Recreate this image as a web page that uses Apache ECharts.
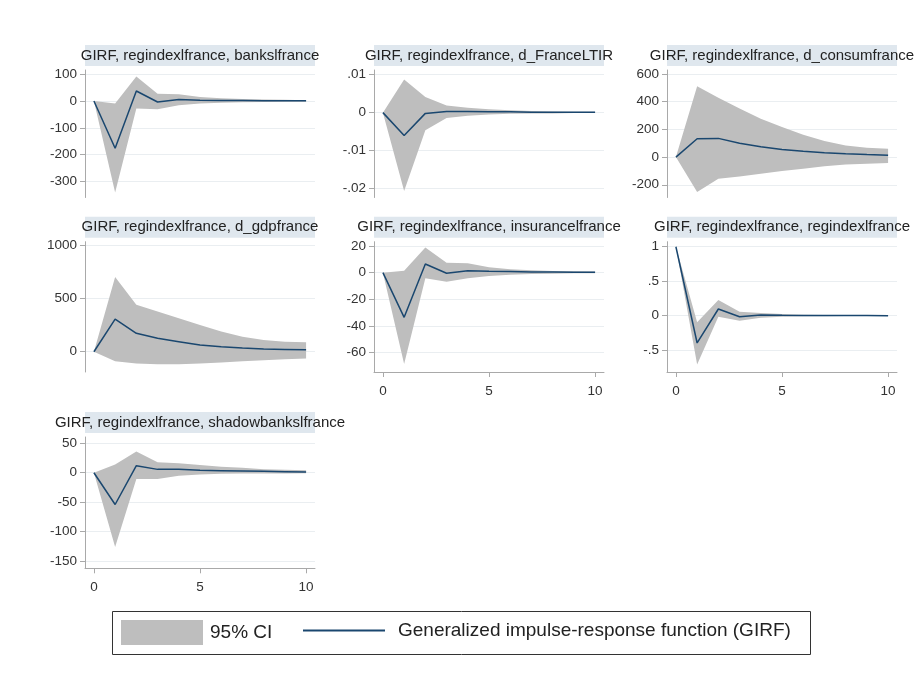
<!DOCTYPE html>
<html><head><meta charset="utf-8">
<script src="https://cdn.jsdelivr.net/npm/echarts@6/dist/echarts.min.js"></script>
<style>html,body{margin:0;padding:0;background:#fff}#c{width:916px;height:678px}</style>
</head><body><div id="c"></div>
<script>
// ---------- data ----------
const horizon = [0,1,2,3,4,5,6,7,8,9,10];
const xTicks = [0,5,10];

const titleBanks = 'GIRF, regindexlfrance, bankslfrance';
const titleLTIR = 'GIRF, regindexlfrance, d_FranceLTIR';
const titleConsum = 'GIRF, regindexlfrance, d_consumfrance';
const titleGdp = 'GIRF, regindexlfrance, d_gdpfrance';
const titleIns = 'GIRF, regindexlfrance, insurancelfrance';
const titleReg = 'GIRF, regindexlfrance, regindexlfrance';
const titleShadow = 'GIRF, regindexlfrance, shadowbankslfrance';

const banksGirf  = [0,-176,37,-4,5,3,2,1.5,1,0.5,0.3];
const banksUpper = [0,-10,91,27,25,15,10,7,5,4,3];
const banksLower = [0,-340,-28,-31,-16,-10,-7,-5,-4,-3,-3];
const banksTicks = [-300,-200,-100,0,100];

const ltirGirf  = [0,-0.0060,-0.0002,0.0003,0.0003,0.0002,0.0002,0.0001,0.0001,0.0001,0.0001];
const ltirUpper = [0,0.0087,0.0041,0.0019,0.0013,0.0009,0.0006,0.0004,0.0003,0.0002,0.0002];
const ltirLower = [0,-0.0206,-0.0046,-0.0014,-0.0008,-0.0005,-0.0003,-0.0002,-0.0002,-0.0001,-0.0001];
const ltirTicks = [-0.02,-0.01,0,0.01];

const consumGirf  = [0,132,135,100,75,55,42,32,24,18,14];
const consumUpper = [0,511,429,350,277,217,161,116,84,67,60];
const consumLower = [0,-253,-157,-140,-120,-101,-84,-67,-53,-48,-43];
const consumTicks = [-200,0,200,400,600];

const gdpGirf  = [0,307,174,127,95,63,47,35,25,22,19];
const gdpUpper = [0,706,443,380,316,253,190,142,111,95,89];
const gdpLower = [0,-89,-111,-117,-117,-111,-101,-89,-79,-70,-63];
const gdpTicks = [0,500,1000];

const insGirf  = [0,-33.5,6.5,-0.5,1.5,1,0.8,0.5,0.4,0.3,0.2];
const insUpper = [0,1.5,18.8,7.5,7,4,2.5,1.8,1.2,1,0.8];
const insLower = [0,-68.5,-4.2,-6.8,-4.2,-2.5,-1.5,-1,-0.8,-0.5,-0.5];
const insTicks = [-60,-40,-20,0,20];

const regGirf  = [1,-0.396,0.097,-0.015,0.01,0.005,0.003,0.002,0.001,0.001,0];
const regUpper = [1,-0.097,0.227,0.058,0.039,0.024,0.015,0.01,0.007,0.005,0.004];
const regLower = [1,-0.71,-0.015,-0.072,-0.03,-0.015,-0.01,-0.007,-0.005,-0.004,-0.003];
const regTicks = [-0.5,0,0.5,1];

const shadowGirf  = [0,-54,12,5.7,6,4,3.4,2.8,2.3,1.7,1.1];
const shadowUpper = [0,14,36,17.6,16,13,10,8.5,6,5,4];
const shadowLower = [0,-126,-10.8,-10.8,-5,-3,-1.7,-1.5,-1.3,-1.2,-1.1];
const shadowTicks = [-150,-100,-50,0,50];

const ciName = '95% CI';
const lineName = 'Generalized impulse-response function (GIRF)';

// ---------- layout / styles ----------
const FONT = '"Liberation Sans", Arial, Helvetica, sans-serif';
const colLeft = [85, 374, 667];
const rowTop = [70, 241.7, 437];
const rowH = [127.5, 130.3, 131.3];
const plotW = 230;
const xMin = -0.42, xMax = 10.42;

const panels = [
  {title: titleBanks,  g: banksGirf,  u: banksUpper,  l: banksLower,  ticks: banksTicks,  min: -359,    max: 115,    col:0,row:0, xaxis:false},
  {title: titleLTIR,   g: ltirGirf,   u: ltirUpper,   l: ltirLower,   ticks: ltirTicks,   min: -0.0223, max: 0.0112, col:1,row:0, xaxis:false},
  {title: titleConsum, g: consumGirf, u: consumUpper, l: consumLower, ticks: consumTicks, min: -292,    max: 629,    col:2,row:0, xaxis:false},
  {title: titleGdp,    g: gdpGirf,    u: gdpUpper,    l: gdpLower,    ticks: gdpTicks,    min: -191,    max: 1038,   col:0,row:1, xaxis:false},
  {title: titleIns,    g: insGirf,    u: insUpper,    l: insLower,    ticks: insTicks,    min: -74.5,   max: 23.2,   col:1,row:1, xaxis:true},
  {title: titleReg,    g: regGirf,    u: regUpper,    l: regLower,    ticks: regTicks,    min: -0.817,  max: 1.073,  col:2,row:1, xaxis:true},
  {title: titleShadow, g: shadowGirf, u: shadowUpper, l: shadowLower, ticks: shadowTicks, min: -162.4,  max: 60.7,   col:0,row:2, xaxis:true}
];

function stataFmt(v) {
  let s = String(Math.round(v * 1e6) / 1e6);
  return s.replace(/^(-?)0\./, '$1.');
}

const AXIS_COLOR = '#a9a9a9';
const LABEL_COLOR = '#333333';
const GRID_COLOR = '#eaeef1';
const BAND_COLOR = '#dfe7ee';
const CI_COLOR = '#bebebe';
const LINE_COLOR = '#1a476f';

const grid = [], xAxis = [], yAxis = [], series = [], title = [], graphic = [];

panels.forEach((p, i) => {
  const left = colLeft[p.col], top = rowTop[p.row], h = rowH[p.row];
  grid.push({left: left, top: top, width: plotW, height: h, containLabel: false});
  graphic.push({type: 'rect', silent: true, z: 0,
    shape: {x: left, y: top - 25, width: plotW, height: 21},
    style: {fill: BAND_COLOR}});
  title.push({text: p.title, left: left + plotW / 2, top: top - 14.5, textAlign: 'center',
    textVerticalAlign: 'middle', padding: 0,
    textStyle: {fontFamily: FONT, fontSize: 15, fontWeight: 'normal', color: '#222'}});
  xAxis.push({type: 'value', gridIndex: i, min: xMin, max: xMax,
    axisLine: {show: p.xaxis, onZero: false, lineStyle: {color: AXIS_COLOR, width: 1}},
    axisTick: {show: p.xaxis, length: 5, customValues: xTicks, lineStyle: {color: AXIS_COLOR}},
    axisLabel: {show: p.xaxis, customValues: xTicks, margin: 12, color: LABEL_COLOR, fontFamily: FONT, fontSize: 13.5},
    splitLine: {show: false}});
  yAxis.push({type: 'value', gridIndex: i, min: p.min, max: p.max,
    axisLine: {show: true, onZero: false, lineStyle: {color: AXIS_COLOR, width: 1}},
    axisTick: {show: true, length: 5, customValues: p.ticks, lineStyle: {color: AXIS_COLOR}},
    axisLabel: {customValues: p.ticks, margin: 8, color: LABEL_COLOR, fontFamily: FONT, fontSize: 13.5,
      formatter: v => stataFmt(v)},
    splitLine: {show: true, customValues: p.ticks, lineStyle: {color: GRID_COLOR, width: 1}}});

  const ciData = horizon.map((h, k) => [h, p.l[k], p.u[k]]);
  series.push({type: 'custom', name: ciName, coordinateSystem: 'cartesian2d',
    xAxisIndex: i, yAxisIndex: i, data: ciData, encode: {x: 0, y: [1, 2]},
    silent: true, z: 2, color: CI_COLOR, clip: true,
    renderItem: (params, api) => {
      if (params.dataIndex !== 0) return null;
      const pts = [];
      for (let k = 0; k < ciData.length; k++) pts.push(api.coord([ciData[k][0], ciData[k][2]]));
      for (let k = ciData.length - 1; k >= 0; k--) pts.push(api.coord([ciData[k][0], ciData[k][1]]));
      return {type: 'polygon', shape: {points: pts}, style: {fill: CI_COLOR}};
    }});
  series.push({type: 'line', name: lineName, xAxisIndex: i, yAxisIndex: i,
    data: horizon.map((h, k) => [h, p.g[k]]),
    symbol: 'none', showSymbol: false, silent: true, color: LINE_COLOR,
    lineStyle: {color: LINE_COLOR, width: 1.5}, z: 3});
});

// legend frame
graphic.push({type: 'rect', silent: true, z: 0,
  shape: {x: 112.5, y: 611.5, width: 698, height: 43},
  style: {fill: '#ffffff', stroke: '#333333', lineWidth: 1}});

const legend = [
  {data: [{name: ciName, icon: 'rect', itemStyle: {color: CI_COLOR}}],
   left: 121, top: 620, padding: 0, itemWidth: 82, itemHeight: 25, selectedMode: false,
   textStyle: {fontFamily: FONT, fontSize: 19, color: '#222', padding: [0, 0, 0, 2]}},
  {data: [{name: lineName, icon: 'rect', itemStyle: {color: LINE_COLOR}}],
   left: 303, top: 621, padding: 0, itemWidth: 82, itemHeight: 2, selectedMode: false,
   textStyle: {fontFamily: FONT, fontSize: 19, color: '#222', padding: [0, 0, 0, 8]}}
];

const chart = echarts.init(document.getElementById('c'), null, {renderer: 'canvas'});
chart.setOption({
  animation: false,
  backgroundColor: '#ffffff',
  title: title,
  grid: grid,
  xAxis: xAxis,
  yAxis: yAxis,
  legend: legend,
  graphic: graphic,
  series: series
});
</script>
</body></html>
